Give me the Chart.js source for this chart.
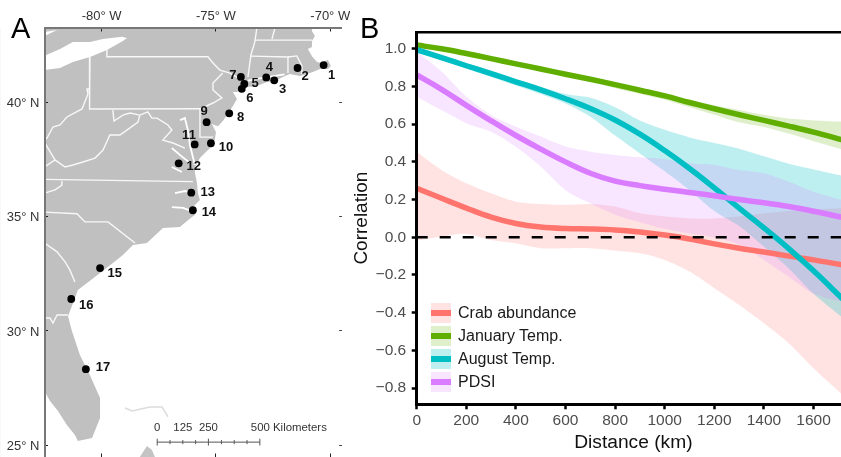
<!DOCTYPE html>
<html>
<head>
<meta charset="utf-8">
<script src="https://cdn.jsdelivr.net/npm/chart.js@4"></script>
<style>
  html, body { margin: 0; padding: 0; background: #fff; }
  #page { position: relative; width: 841px; height: 457px; overflow: hidden; font-family: "Liberation Sans", Arial, sans-serif; }
  canvas { position: absolute; top: 0; }
  #mapChart { left: 0; filter: blur(0.35px); }
  #corrChart { left: 350px; }
  .letter { position: absolute; font-size: 29px; line-height: 30px; color: #000; top: 13px; }
  .key { position: absolute; left: 431px; width: 20px; height: 20px; }
  .key div { position: absolute; left: 0; width: 20px; top: 7px; height: 6px; }
  .keyText { position: absolute; left: 458px; font-size: 16px; line-height: 20px; color: #1a1a1a; white-space: nowrap; }
</style>
</head>
<body>
<div id="page">
  <canvas id="mapChart" width="355" height="457"></canvas>
  <canvas id="corrChart" width="500" height="457"></canvas>
  <div class="letter" style="left:11px">A</div>
  <div class="letter" style="left:360px">B</div>
</div>
<script>
// panel B
const distanceKm = [0, 100, 200, 300, 400, 500, 600, 700, 800, 900, 1000, 1100, 1200, 1300, 1400, 1500, 1600, 1720];
const crabLine = [0.26, 0.207, 0.155, 0.107, 0.073, 0.054, 0.046, 0.044, 0.039, 0.028, 0.012, -0.009, -0.035, -0.058, -0.078, -0.1, -0.12, -0.147];
const crabUpper = [0.454, 0.357, 0.286, 0.233, 0.189, 0.177, 0.172, 0.177, 0.163, 0.127, 0.11, 0.1, 0.1, 0.11, 0.127, 0.14, 0.149, 0.154];
const crabLower = [-0.018, 0.004, 0.018, -0.014, -0.032, -0.058, -0.058, -0.058, -0.071, -0.085, -0.12, -0.182, -0.27, -0.359, -0.456, -0.562, -0.695, -0.84];
const janLine = [1.02, 1.0, 0.975, 0.948, 0.92, 0.893, 0.865, 0.838, 0.81, 0.78, 0.75, 0.715, 0.682, 0.65, 0.62, 0.59, 0.558, 0.515];
const janUpper = [1.025, 1.005, 0.98, 0.953, 0.925, 0.898, 0.87, 0.845, 0.815, 0.79, 0.76, 0.73, 0.7, 0.675, 0.65, 0.63, 0.62, 0.614];
const janLower = [1.015, 0.995, 0.97, 0.943, 0.915, 0.888, 0.858, 0.825, 0.79, 0.76, 0.73, 0.69, 0.65, 0.61, 0.585, 0.55, 0.51, 0.465];
const augLine = [0.995, 0.953, 0.91, 0.868, 0.825, 0.782, 0.735, 0.683, 0.622, 0.547, 0.46, 0.365, 0.262, 0.155, 0.05, -0.06, -0.178, -0.33];
const augUpper = [1.005, 0.965, 0.925, 0.885, 0.84, 0.8, 0.76, 0.74, 0.69, 0.62, 0.57, 0.53, 0.5, 0.47, 0.43, 0.39, 0.36, 0.325];
const augLower = [0.98, 0.94, 0.895, 0.85, 0.805, 0.76, 0.71, 0.64, 0.54, 0.445, 0.35, 0.25, 0.14, 0.06, -0.05, -0.165, -0.3, -0.43];
const pdsiLine = [0.861, 0.785, 0.7, 0.618, 0.54, 0.468, 0.4, 0.34, 0.298, 0.274, 0.255, 0.238, 0.22, 0.2, 0.183, 0.163, 0.138, 0.104];
const pdsiUpper = [0.985, 0.879, 0.746, 0.649, 0.587, 0.534, 0.481, 0.454, 0.437, 0.424, 0.414, 0.393, 0.384, 0.357, 0.34, 0.295, 0.242, 0.195];
const pdsiLower = [0.746, 0.675, 0.605, 0.56, 0.48, 0.375, 0.25, 0.18, 0.12, 0.08, 0.045, 0.02, 0, -0.04, -0.12, -0.21, -0.3, -0.345];
const seriesNames = ["Crab abundance", "January Temp.", "August Temp.", "PDSI"];
const seriesColors = ["#ff756e", "#5fae00", "#00bfc4", "#da7cff"];
const bandColors = ["rgba(255,117,110,0.2)", "rgba(95,174,0,0.2)", "rgba(0,191,196,0.26)", "rgba(218,124,255,0.2)"];

// panel A, lon/lat
const coastline = [[-82.5,43.25],[-70.8,43.25],[-70.8,43.12],[-70.67,42.9],[-70.8,42.68],[-70.8,42.42],[-70.98,42.33],[-70.8,42.02],[-70.58,41.76],[-70.36,41.72],[-70.23,41.81],[-70.1,41.85],[-69.97,41.59],[-70.1,41.46],[-70.45,41.46],[-70.76,41.33],[-71.02,41.24],[-71.33,41.15],[-71.77,41.24],[-72.07,41.11],[-72.42,40.93],[-72.77,40.89],[-73.21,40.71],[-73.6,40.67],[-73.82,40.58],[-74.08,40.45],[-74.26,40.45],[-74.08,40.14],[-74.26,39.84],[-74.48,39.49],[-74.7,39.18],[-74.91,38.95],[-75.18,39.05],[-75.0,38.7],[-75.05,38.35],[-75.26,38.0],[-75.57,37.7],[-75.7,37.56],[-75.92,37.17],[-75.92,36.91],[-75.83,36.47],[-75.79,36.03],[-75.7,35.73],[-76.01,35.42],[-75.92,35.07],[-76.05,34.98],[-76.58,34.55],[-77.32,34.5],[-78.02,33.85],[-78.63,33.76],[-79.07,33.32],[-79.51,32.97],[-80.07,32.54],[-80.64,32.1],[-81.04,31.79],[-81.3,31.09],[-81.47,30.65],[-81.3,30.0],[-80.95,28.95],[-80.51,28.07],[-80.07,27.07],[-80.07,26.19],[-80.42,25.32],[-81.04,25.19],[-81.17,25.45],[-81.52,25.89],[-81.91,26.5],[-82.26,26.94],[-82.5,27.38]];
const lakeErie = [[-82.5,42.04],[-81.82,42.33],[-81.26,42.64],[-80.51,42.64],[-79.94,42.77],[-79.11,42.87],[-78.89,42.81],[-79.07,42.68],[-79.77,42.29],[-80.51,41.98],[-81.26,41.76],[-81.82,41.5],[-82.5,41.41]];
const lakeCorner = [[-82.5,43.07],[-81.95,43.16],[-82.5,42.9]];
const bahamas = [[-78.02,24.97],[-78.19,24.71],[-78.33,24.49],[-77.67,24.49],[-77.8,24.8]];
const bahamasFaint = [[-78.98,26.63],[-78.67,26.5],[-77.89,26.68],[-77.36,26.68],[-77.1,26.25]];
const stateBorders = [
  [[-80.51,41.98],[-80.53,39.71],[-75.7,39.72]],
  [[-79.77,42.29],[-79.77,41.99],[-75.35,41.99],[-75.13,41.72],[-74.83,41.41],[-74.39,41.28],[-73.87,40.98]],
  [[-74.7,41.28],[-75.13,40.84],[-75.13,40.54],[-74.74,40.19],[-75.13,39.97],[-75.7,39.71],[-75.7,38.48],[-75.13,38.48]],
  [[-73.21,43.25],[-73.3,42.64],[-73.47,42.07],[-73.6,41.11]],
  [[-73.3,42.72],[-70.8,42.72]],
  [[-72.42,43.25],[-72.55,42.77]],
  [[-73.47,42.02],[-71.85,41.98],[-71.85,41.28]],
  [[-71.85,41.98],[-71.46,42.03],[-71.24,41.59],[-71.24,41.24]],
  [[-79.51,39.66],[-79.46,39.18],[-79.07,39.44],[-78.76,39.53],[-78.33,39.44],[-77.98,39.58],[-77.8,39.31],[-77.58,39.31],[-77.1,39.01],[-76.93,38.79],[-77.32,38.35],[-76.88,38.22],[-76.36,38.0]],
  [[-78.33,39.44],[-78.41,39.14],[-78.76,38.88],[-79.2,38.57],[-79.64,38.57],[-79.94,37.91],[-80.29,37.56],[-80.82,37.39],[-81.26,37.26],[-81.6,37.17],[-82.04,37.48],[-82.48,38.22]],
  [[-82.5,37.17],[-82.04,37.48]],
  [[-80.53,40.58],[-80.64,40.58],[-80.6,40.36],[-80.86,39.71],[-81.52,39.36],[-81.82,39.01],[-82.13,38.92],[-82.39,38.44],[-82.5,38.35]],
  [[-82.5,36.63],[-76.01,36.53]],
  [[-81.74,36.56],[-81.74,36.38],[-82.04,36.17],[-82.5,36.03]],
  [[-82.5,35.2],[-81.08,35.13],[-80.73,34.77],[-79.72,34.77],[-78.54,33.85]],
  [[-82.5,33.85],[-81.95,33.46],[-81.6,33.02],[-81.39,32.67],[-81.17,32.14]],
  [[-82.5,30.57],[-82.26,30.57],[-82.13,30.35],[-81.95,30.7],[-81.47,30.7]]
];
const waterways = [
  [[-76.57,39.22],[-76.36,39.31],[-76.23,38.79],[-76.14,38.13],[-75.92,37.26]],
  [[-76.93,38.0],[-76.58,37.7],[-76.14,37.35]],
  [[-76.93,37.17],[-76.49,36.95]],
  [[-76.79,36.03],[-76.36,36.12],[-75.95,36.03]],
  [[-76.93,35.42],[-76.44,35.38],[-75.95,35.2]],
  [[-73.6,40.95],[-72.9,41.08],[-72.0,41.22]]
];
const siteNames = ["1","2","3","4","5","6","7","8","9","10","11","12","13","14","15","16","17"];
const siteLon = [-70.29,-71.43,-72.45,-72.8,-73.76,-73.87,-73.91,-74.42,-75.41,-75.22,-75.93,-76.63,-76.08,-76.01,-80.07,-81.33,-80.69];
const siteLat = [41.63,41.5,40.96,41.09,40.8,40.59,41.11,39.52,39.13,38.21,38.16,37.33,36.05,35.28,32.75,31.4,28.33];
const scaleBarLon = [-77.57,-77.01,-76.45,-75.89,-75.33,-74.76,-74.2,-73.64,-73.08];
const scaleBarLat = 25.14;
const scaleBarLabels = [["0",0],["125",2],["250",4]];
const lonTicks = [-80, -75, -70];
const latTicks = [40, 35, 30, 25];

const tickFont = { family: "Liberation Sans", size: 15.5 };
const pathStyle = { showLine: true, pointRadius: 0, tension: 0, fill: false };

function toPoints(pairs) {
  return pairs.map(function (p) {
    return { x: p[0], y: p[1] };
  });
}

function seriesPoints(values) {
  return values.map(function (v, i) {
    return { x: distanceKm[i], y: v };
  });
}

// tick label padding would otherwise shrink the map area
function clearPadding(s) {
  s.paddingLeft = 0;
  s.paddingRight = 0;
  s.paddingTop = 0;
  s.paddingBottom = 0;
}

// label offsets beside each dot, in pixels
const siteLabelDx = [8,7.6,8.4,3,10.7,8,-8,11.4,-2.4,15,-5.7,15,16.4,16,14.7,15,17];
const siteLabelDy = [10,8.7,9,-9.6,-0.7,9.3,-1.3,4,-10.3,4.4,-9,3.4,-0.7,2.4,5.7,6,-1.6];

const mapText = {
  id: "mapText",
  afterDatasetsDraw(chart) {
    const { ctx, scales } = chart;
    ctx.save();
    ctx.textAlign = "center";
    ctx.textBaseline = "middle";
    ctx.font = "bold 13px 'Liberation Sans'";
    ctx.fillStyle = "#111";
    siteNames.forEach(function (name, i) {
      const px = scales.x.getPixelForValue(siteLon[i]) + siteLabelDx[i];
      const py = scales.y.getPixelForValue(siteLat[i]) + siteLabelDy[i];
      ctx.fillText(name, px, py);
    });
    ctx.font = "11.4px 'Liberation Sans'";
    ctx.fillStyle = "#333";
    const barY = scales.y.getPixelForValue(scaleBarLat) - 14;
    scaleBarLabels.forEach(function (item) {
      ctx.fillText(item[0], scales.x.getPixelForValue(scaleBarLon[item[1]]), barY);
    });
    ctx.textAlign = "left";
    ctx.fillText("500 Kilometers", scales.x.getPixelForValue(scaleBarLon[8]) - 9, barY);
    ctx.restore();
  },
};

const mapDatasets = [];
mapDatasets.push({ data: toPoints(coastline), ...pathStyle, fill: "shape", backgroundColor: "#c0c0c0", borderWidth: 0, order: 10 });
mapDatasets.push({ data: toPoints(bahamas), ...pathStyle, fill: "shape", backgroundColor: "#c4c4c4", borderWidth: 0, order: 10 });
mapDatasets.push({ data: toPoints(bahamasFaint), ...pathStyle, borderColor: "#dcdcdc", borderWidth: 1.5, order: 9 });
mapDatasets.push({ data: toPoints(lakeErie), ...pathStyle, fill: "shape", backgroundColor: "#fff", borderWidth: 0, order: 8 });
mapDatasets.push({ data: toPoints(lakeCorner), ...pathStyle, fill: "shape", backgroundColor: "#fff", borderWidth: 0, order: 8 });
stateBorders.forEach(function (b) {
  mapDatasets.push({ data: toPoints(b), ...pathStyle, borderColor: "rgba(255,255,255,0.88)", borderWidth: 1.4, order: 6 });
});
waterways.forEach(function (w) {
  mapDatasets.push({ data: toPoints(w), ...pathStyle, borderColor: "#fff", borderWidth: 1.8, order: 6 });
});
mapDatasets.push({ data: scaleBarLon.map((lon) => ({ x: lon, y: scaleBarLat })), ...pathStyle, borderColor: "#555", borderWidth: 1, order: 5 });
scaleBarLon.forEach(function (lon, i) {
  const half = i % 4 === 0 ? 0.15 : 0.09;
  mapDatasets.push({
    data: [{ x: lon, y: scaleBarLat - half }, { x: lon, y: scaleBarLat + half }],
    ...pathStyle, borderColor: "#555", borderWidth: 1, order: 5,
  });
});
mapDatasets.push({
  data: siteLon.map((lon, i) => ({ x: lon, y: siteLat[i] })),
  showLine: false, pointRadius: 3.9, pointBorderWidth: 0,
  pointBackgroundColor: "#000", order: 1,
});

new Chart(document.getElementById("mapChart"), {
  type: "scatter",
  data: { datasets: mapDatasets },
  plugins: [mapText],
  options: {
    responsive: false,
    animation: false,
    events: [],
    layout: { autoPadding: false, padding: { top: 0, left: 0, right: 13.3, bottom: 0 } },
    plugins: { legend: { display: false }, tooltip: { enabled: false } },
    scales: {
      x: {
        type: "linear", position: "top", min: -82.5, max: -69.5,
        afterFit(s) { s.height = 28; clearPadding(s); },
        afterBuildTicks(s) { s.ticks = lonTicks.map((v) => ({ value: v })); },
        border: { color: "#777", width: 2, z: 1 },
        grid: { drawOnChartArea: false, tickLength: -3.5, tickColor: "#222", tickWidth: 1, z: 1 },
        ticks: {
          padding: 7, maxRotation: 0, autoSkip: false, color: "#333",
          font: { family: "Liberation Sans", size: 13 },
          callback: (v) => v + "\u00b0 W",
        },
      },
      y: {
        type: "linear", position: "left", min: 24.49, max: 43.25,
        afterFit(s) { s.width = 44.5; clearPadding(s); },
        afterBuildTicks(s) { s.ticks = latTicks.map((v) => ({ value: v })); },
        border: { color: "#777", width: 2, z: 1 },
        grid: { drawOnChartArea: false, tickLength: -3.5, tickColor: "#222", tickWidth: 1, z: 1 },
        ticks: {
          padding: 8.5, labelOffset: 1, autoSkip: false, color: "#333",
          font: { family: "Liberation Sans", size: 13 },
          callback: (v) => v + "\u00b0 N",
        },
      },
      x2: {
        type: "linear", position: "bottom", min: -82.5, max: -69.5,
        afterFit(s) { s.height = 0.01; clearPadding(s); },
        afterBuildTicks(s) { s.ticks = lonTicks.map((v) => ({ value: v })); },
        border: { display: false },
        grid: { drawOnChartArea: false, tickLength: -3.5, tickColor: "#222", tickWidth: 1, z: 1 },
        ticks: { display: false },
      },
      y2: {
        type: "linear", position: "right", min: 24.49, max: 43.25,
        afterFit(s) { s.width = 0.01; clearPadding(s); },
        afterBuildTicks(s) { s.ticks = latTicks.map((v) => ({ value: v })); },
        border: { color: "#f2f2f2", width: 1 },
        grid: { drawOnChartArea: false, tickLength: -2.5, tickColor: "#444", tickWidth: 1, z: 1 },
        ticks: { display: false },
      },
    },
  },
});

const corrDatasets = [];
// first dataset ends up on top
corrDatasets.push({
  data: [{ x: 0, y: 0 }, { x: 1800, y: 0 }],
  borderColor: "#000", borderWidth: 2.6, borderDash: [11, 12], pointRadius: 0, fill: false,
});
[pdsiLine, augLine, janLine, crabLine].forEach(function (line, i) {
  corrDatasets.push({
    data: seriesPoints(line),
    borderColor: seriesColors[3 - i], borderWidth: 5.5, pointRadius: 0,
    tension: 0.4, fill: false, borderCapStyle: "butt",
  });
});
[[pdsiUpper, pdsiLower], [augUpper, augLower], [janUpper, janLower], [crabUpper, crabLower]].forEach(function (band, i) {
  corrDatasets.push({
    data: seriesPoints(band[0]), borderWidth: 0, pointRadius: 0,
    tension: 0.3, fill: "+1", backgroundColor: bandColors[3 - i],
  });
  corrDatasets.push({
    data: seriesPoints(band[1]), borderWidth: 0, pointRadius: 0,
    tension: 0.3, fill: false,
  });
});

new Chart(document.getElementById("corrChart"), {
  type: "line",
  data: { datasets: corrDatasets },
  options: {
    responsive: false,
    animation: false,
    events: [],
    layout: { autoPadding: false, padding: { top: 0, left: 0, right: 0, bottom: 0 } },
    plugins: { legend: { display: false }, tooltip: { enabled: false } },
    scales: {
      x: {
        type: "linear", position: "bottom", min: 0, max: 1747,
        afterFit(s) { s.height = 52.7; },
        border: { color: "#000", width: 3, z: 2 },
        grid: { drawOnChartArea: false, tickLength: 5, tickColor: "#000", tickWidth: 2.5 },
        ticks: {
          stepSize: 200, maxRotation: 0, autoSkip: false, padding: 2, color: "#4d4d4d", font: tickFont, includeBounds: false,
          callback: (v) => String(v),
        },
        title: { display: true, text: "Distance (km)", color: "#111", font: { family: "Liberation Sans", size: 19.2 }, padding: { top: 0, bottom: 3 } },
      },
      xTop: {
        type: "linear", position: "top", min: 0, max: 1747,
        afterFit(s) { s.height = 32; },
        border: { color: "#000", width: 2.5, z: 2 },
        grid: { display: false },
        ticks: { display: false },
      },
      y: {
        type: "linear", position: "left", min: -0.886, max: 1.089,
        afterFit(s) { s.width = 66.7; },
        border: { color: "#000", width: 3, z: 2 },
        grid: { drawOnChartArea: false, tickLength: 5, tickColor: "#000", tickWidth: 2.5 },
        ticks: {
          stepSize: 0.2, includeBounds: false, padding: 5.5, color: "#4d4d4d", font: tickFont,
          callback: (v) => v.toFixed(1).replace("-", "\u2212"),
        },
        title: { display: true, text: "Correlation", color: "#111", font: { family: "Liberation Sans", size: 19 }, padding: { top: 0, bottom: 0 } },
      },
    },
  },
});

// legend keys with the band behind the line
const page = document.getElementById("page");
seriesNames.forEach(function (name, i) {
  const top = 303 + i * 23;
  const key = document.createElement("div");
  key.className = "key";
  key.style.top = top + "px";
  key.style.background = bandColors[i];
  const bar = document.createElement("div");
  bar.style.background = seriesColors[i];
  key.appendChild(bar);
  page.appendChild(key);
  const text = document.createElement("div");
  text.className = "keyText";
  text.style.top = top + "px";
  text.textContent = name;
  page.appendChild(text);
});
</script>
</body>
</html>
